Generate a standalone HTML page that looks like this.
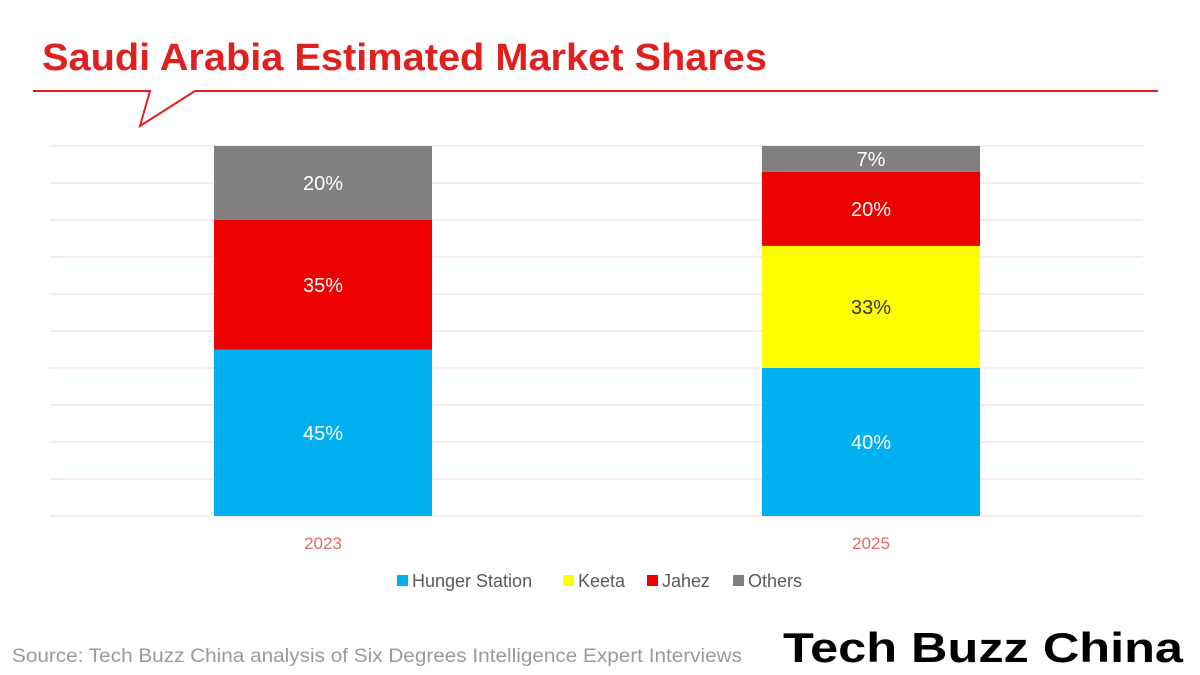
<!DOCTYPE html>
<html><head><meta charset="utf-8"><style>
body{margin:0;background:#fff;}
svg{display:block;font-family:"Liberation Sans","DejaVu Sans",sans-serif;}
</style></head><body>
<svg width="1200" height="675" viewBox="0 0 1200 675">
<text x="42" y="70" font-size="38" font-weight="bold" fill="#e0201f" textLength="725" lengthAdjust="spacingAndGlyphs">Saudi Arabia Estimated Market Shares</text>
<polyline points="33,91 150,91 140,126 195,91 1158,91" fill="none" stroke="#e0201f" stroke-width="2"/>
<g id="grid"></g>
<g id="bars"></g>
<g id="xlabels"></g>
<g id="legend"></g>
<text x="12" y="662" font-size="19" fill="#9a9a9a" textLength="730" lengthAdjust="spacingAndGlyphs">Source: Tech Buzz China analysis of Six Degrees Intelligence Expert Interviews</text>
<text x="783" y="662" font-size="42" font-weight="900" fill="#000" textLength="400" lengthAdjust="spacingAndGlyphs">Tech Buzz China</text>
</svg>
<script>
const categories = ["2023", "2025"];
const seriesNames = ["Hunger Station", "Keeta", "Jahez", "Others"];
const hungerStation = [45, 40];
const keeta = [0, 33];
const jahez = [35, 20];
const others = [20, 7];
const seriesColors = ["#00b0f0", "#ffff00", "#ee0000", "#808080"];
const labelColors = ["#fff", "#333", "#fff", "#fff"];
const ticks = [0,10,20,30,40,50,60,70,80,90,100];

const NS = "http://www.w3.org/2000/svg";
const y0 = 516, yTop = 146;
const y = v => y0 - (v/100)*(y0-yTop);
const barW = 218;
const xc = i => 323 + i*548;
function mk(tag, attrs, parent){const e=document.createElementNS(NS,tag);for(const k in attrs)e.setAttribute(k,attrs[k]);document.getElementById(parent).appendChild(e);return e;}

ticks.forEach(t=>{
  const l=mk("line",{x1:50,x2:1143,y1:y(t),y2:y(t),stroke:"#f6d6d6","stroke-width":1},"grid");
  
  
});
const series=[hungerStation,keeta,jahez,others];
categories.forEach((c,i)=>{
  let acc=0;
  series.forEach((s,j)=>{
    const v=s[i]; if(!v) return;
    const r=mk("rect",{x:xc(i)-barW/2,y:y(acc+v),width:barW,height:y(acc)-y(acc+v),fill:seriesColors[j]},"bars");
    
    
    const t=mk("text",{x:xc(i),y:(y(acc)+y(acc+v))/2+7,"text-anchor":"middle","font-size":20,fill:labelColors[j]},"bars");
    t.textContent=v+"%";
    
    
    acc+=v;
  });
  const xl=mk("text",{x:xc(i),y:549,"text-anchor":"middle","font-size":17,fill:"#e46a6a"},"xlabels");
  xl.textContent=c;
  
  
});
const legX=[397,563,647,733];
seriesNames.forEach((n,j)=>{
  const r=mk("rect",{x:legX[j],y:575,width:11,height:11,fill:seriesColors[j]},"legend");
  
  
  const t=mk("text",{x:legX[j]+15,y:587,"font-size":18,fill:"#595959"},"legend");
  t.textContent=n;
  
  
});
</script>
</body></html>
